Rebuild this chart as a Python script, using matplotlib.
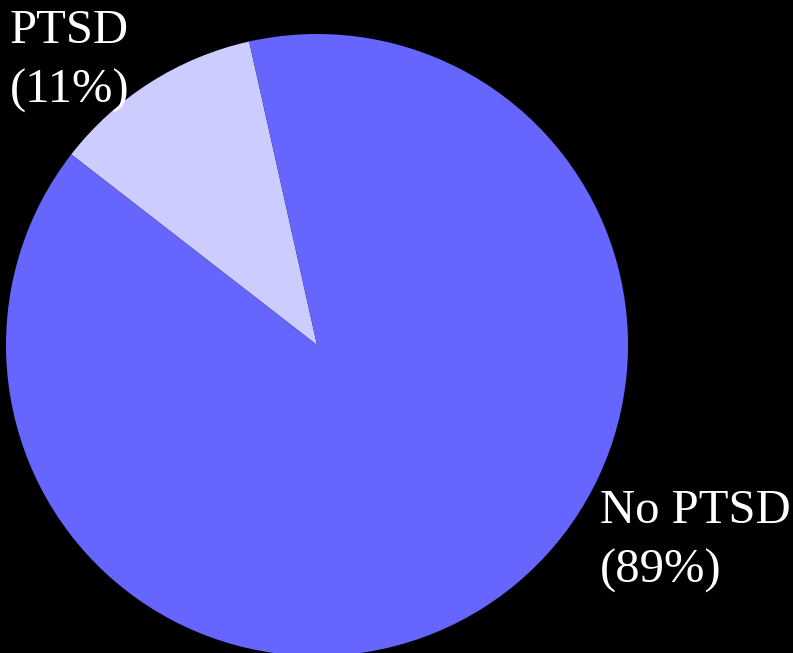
import matplotlib.pyplot as plt

categories = ['PTSD', 'No PTSD']
shares = [11, 89]
colors = ['#CCCCFF', '#6666FF']

W, H = 793, 653
fig = plt.figure(figsize=(W / 100, H / 100), dpi=100, facecolor='black')
ax = fig.add_axes([0, 0, 1, 1], facecolor='black')

# pie in pixel units: centre (317, 345 from top), radius 311
start = 122.4 - shares[0] / 100 * 360 / 2
ax.pie(shares, colors=colors, startangle=start, counterclock=True,
       center=(317, H - 345), radius=311, frame=True,
       wedgeprops=dict(linewidth=0))
ax.set_xlim(0, W)
ax.set_ylim(0, H)
ax.set_aspect('equal')
ax.axis('off')

font = dict(family='Liberation Serif', size=35, color='white', linespacing=1.45)
ax.text(10, H - 9, f'{categories[0]}\n({shares[0]}%)', ha='left', va='top', **font)
ax.text(600, H - 489, f'{categories[1]}\n({shares[1]}%)', ha='left', va='top', **font)

fig.savefig('out.png', dpi=100, facecolor='black')
